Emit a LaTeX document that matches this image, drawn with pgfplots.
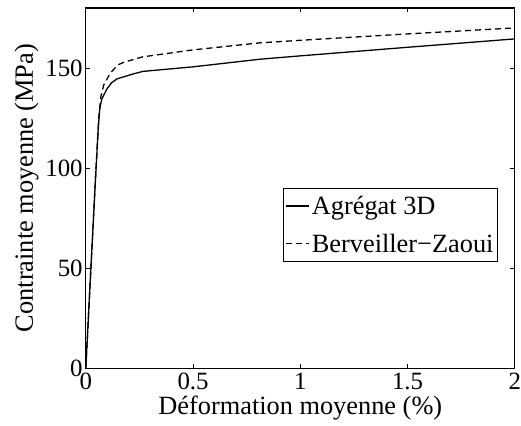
\documentclass[border=0pt]{standalone}
\usepackage{fontspec}
\setmainfont{Liberation Serif}
\usepackage{pgfplots}
\pgfplotsset{compat=1.18}
\begin{document}
\begin{tikzpicture}
\begin{axis}[
  scale only axis,
  width=430bp, height=361bp,
  xmin=0, xmax=2, ymin=0, ymax=180.5,
  xtick={0,0.5,1,1.5,2},
  xticklabels={0,0.5,1,1.5,2},
  ytick={0,50,100,150},
  yticklabels={0,50,100,150},
  tick pos=both,
  tick align=inside,
  major tick length=4.5bp,
  axis line style={line width=1.1bp},
  tick style={line width=0.8bp, black},
  /pgf/number format/assume math mode=true,
  ticklabel style={font=\rmfamily\fontsize{25}{28}\selectfont},
  xticklabel style={inner sep=0bp, yshift=-5bp},
  yticklabel style={inner sep=3bp},
  xlabel={Déformation moyenne (\%)},
  ylabel={Contrainte moyenne (MPa)},
  label style={font=\rmfamily\fontsize{26.5}{30}\selectfont},
  xlabel style={at={(axis description cs:0.5,0)}, anchor=base, yshift=-46bp, inner sep=0pt},
  ylabel style={at={([xshift=-53bp]axis description cs:0,0.5)}, anchor=base, rotate=0, inner sep=0pt},
  legend style={at={(axis description cs:0.9605,0.501)}, anchor=north east,
    font=\rmfamily\fontsize{26.5}{30}\selectfont, draw=black, line width=0.8bp,
    inner xsep=2bp, inner ysep=6bp, row sep=14bp, cells={anchor=west}},
  legend image code/.code={\draw[#1, line width=1.2bp] (0bp,0bp) -- (23bp,0bp);},
  legend cell align=left,
]
\addplot[black, line width=1.3bp] coordinates {
(0,0) (0.045,94.5) (0.058,120) (0.065,130) (0.075,135) (0.099,140) (0.12,143) (0.146,145)
(0.223,147.5) (0.265,148.7) (0.5,151) (0.81,154.8) (1.0,156.5) (1.5,160.8) (2,165)
};
\addlegendentry{Agrégat 3D}
\addplot[black, line width=1.3bp, dash pattern=on 6bp off 4bp] coordinates {
(0,0) (0.045,94.5) (0.06,125) (0.07,136) (0.084,142) (0.115,148) (0.15,152) (0.177,153.3)
(0.265,156) (0.5,159.5) (0.81,163) (1,164.3) (1.5,167.5) (2,170.5)
};
\addlegendentry{Berveiller\textminus Zaoui}
\end{axis}
\path[use as bounding box] (-86bp,-57bp) rectangle (435bp,369bp);
\end{tikzpicture}
\end{document}
